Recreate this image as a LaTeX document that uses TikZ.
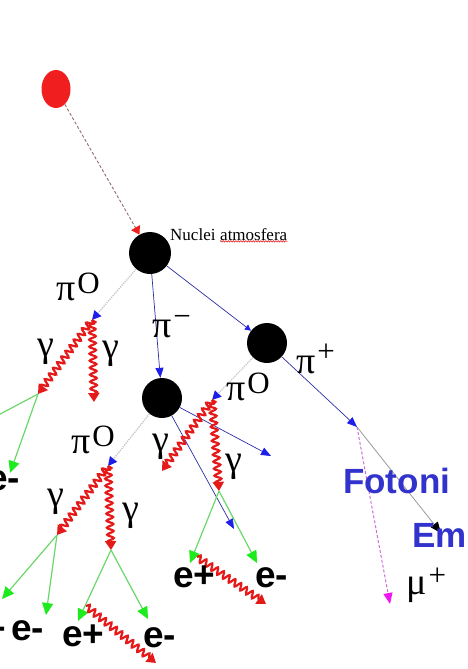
\documentclass[tikz,border=0pt]{standalone}
\usepackage{fontspec}
\setmainfont{Liberation Serif}
\newfontfamily\labelfont{Liberation Sans}
\usepackage{xcolor}
\usepackage{tikz}
\usetikzlibrary{shapes.geometric,arrows.meta,positioning,decorations.pathmorphing}

\definecolor{primred}{RGB}{240,30,30}
\definecolor{primline}{RGB}{150,105,105}
\definecolor{pionblue}{RGB}{45,45,165}
\definecolor{tipblue}{RGB}{30,30,235}
\definecolor{photonred}{RGB}{228,25,25}
\definecolor{leptongreen}{RGB}{105,215,105}
\definecolor{tipgreen}{RGB}{30,235,30}
\definecolor{muonpink}{RGB}{205,110,215}
\definecolor{tippink}{RGB}{240,20,240}
\definecolor{captionblue}{RGB}{50,50,205}

% particle name with a raised charge sign
\newcommand{\ptcl}[3]{#1\kern2pt\raisebox{#3}{\fontsize{31}{31}\selectfont #2}}

\begin{document}
\begin{tikzpicture}[x=1pt, y=-1pt,
  nucleus/.style={circle, fill=black, inner sep=0pt, minimum size=40pt},
  incoming/.style={draw=primline, line width=0.9pt, densely dashed, -{Triangle[width=10pt, length=8pt, color=primred]}},
  pion/.style={draw=pionblue, line width=0.7pt, -{Triangle[width=8pt, length=10pt, color=tipblue]}},
  neutral/.style={draw=gray!45, densely dotted, line width=1.3pt, -{Triangle[width=9pt, length=9pt, color=tipblue]}},
  photon/.style={draw=photonred, line width=2.2pt, decorate, decoration={snake, amplitude=3.3pt, segment length=7pt, post length=6pt}, -{Triangle[width=11pt, length=9pt]}},
  lepton/.style={draw=leptongreen, line width=1.2pt, -{Triangle[width=11pt, length=12pt, color=tipgreen]}},
  muon/.style={draw=muonpink, line width=1pt, densely dashed, -{Triangle[width=9pt, length=11pt, color=tippink]}},
  plabel/.style={font=\fontsize{38}{38}\selectfont, inner sep=0pt, anchor=base west},
  elabel/.style={font=\labelfont\bfseries\fontsize{37}{37}\selectfont, inner sep=0pt, anchor=base west},
  caption/.style={font=\labelfont\bfseries\fontsize{35}{35}\selectfont, text=captionblue, inner sep=0pt, anchor=base west}]
\useasboundingbox (0,0) rectangle (468,669);
\clip (0,0) rectangle (468,669);

% primary particle and the nuclei it hits
\node[ellipse, fill=primred, minimum width=29pt, minimum height=38pt, inner sep=0pt] (cr) at (56,89) {};
\node[nucleus, minimum size=42pt] (n1) at (150,253) {};
\node[nucleus] (n2) at (267,343) {};
\node[nucleus] (n3) at (162,398) {};
\node[font=\fontsize{17}{17}\selectfont, inner sep=0pt, anchor=base west] (nuc) at (170,240) {Nuclei};
\node[font=\fontsize{17}{17}\selectfont, inner sep=0pt, anchor=base west] (atm) at (220,240) {atmosfera};
\draw[photonred, line width=0.6pt, decorate, decoration={snake, amplitude=0.7pt, segment length=2.5pt}]
  ([yshift=-1pt]atm.south west) -- ([yshift=-1pt]atm.south east);

% decay and end points
\coordinate (pz1) at (92,320);
\coordinate (pz2) at (108,466);
\coordinate (pz3) at (212,400);
\coordinate (dk) at (357,427);
\coordinate (mu) at (390,604);
\coordinate (em) at (441,533);
\coordinate (bm1) at (271,456);
\coordinate (bm2) at (234,529);
\coordinate (g1a) at (38,394);
\coordinate (g1b) at (94,402);
\coordinate (g2a) at (57,535);
\coordinate (g2b) at (111,550);
\coordinate (g3a) at (162,471);
\coordinate (g3b) at (219,491);

% hadronic part
\draw[incoming] (cr) -- (n1);
\draw[pion, -{Triangle[width=6pt, length=6pt, color=tipblue]}] (n1) -- (n2);
\draw[pion] (n1) -- (n3);
\draw[pion] (n2) -- (dk);
\draw[pion] (n3) -- (bm1);
\draw[pion] (n3) -- (bm2);
\draw[neutral] (n1) -- (pz1);
\draw[neutral] (n2) -- (pz3);
\draw[neutral] (n3) -- (pz2);
\draw[muon] (dk) -- (mu);
\draw[draw=gray!80, line width=0.8pt, -{Triangle[width=9pt, length=11pt, color=black]}] (dk) -- (em);

% pi0 -> gamma gamma
\draw[photon] (pz1) -- (g1a);
\draw[photon] (pz1) -- (g1b);
\draw[photon] (pz2) -- (g2a);
\draw[photon] (pz2) -- (g2b);
\draw[photon] (pz3) -- (g3a);
\draw[photon] (pz3) -- (g3b);

% pair production
\coordinate (t1) at (10,473);
\coordinate (t2) at (2,599);
\coordinate (t3) at (46,615);
\coordinate (t4) at (78,621);
\coordinate (t5) at (148,619);
\coordinate (t6) at (190,563);
\coordinate (t7) at (257,563);
\coordinate (out) at (-30,430);
\draw[lepton] (g1a) -- (t1);
\draw[lepton, -] (g1a) -- (out);
\draw[lepton] (g2a) -- (t2);
\draw[lepton] (g2a) -- (t3);
\draw[lepton] (g2b) -- (t4);
\draw[lepton] (g2b) -- (t5);
\draw[lepton] (g3b) -- (t6);
\draw[lepton] (g3b) -- (t7);

% bremsstrahlung photons
\coordinate (b1s) at (86,606);
\coordinate (b1e) at (156,663);
\coordinate (b2s) at (197,557);
\coordinate (b2e) at (266,604);
\draw[photon] (b1s) -- (b1e);
\draw[photon] (b2s) -- (b2e);

% labels
\node[plabel] (lpz1) at (56,300) {\ptcl{π}{O}{7pt}};
\node[plabel] (lpm) at (152,337) {\ptcl{π}{−}{11pt}};
\node[plabel] (lpp) at (296,373) {\ptcl{π}{+}{12pt}};
\node[plabel] (lpz3) at (226,400) {\ptcl{π}{O}{7pt}};
\node[plabel] (lpz2) at (71,453) {\ptcl{π}{O}{7pt}};
\node[plabel] (lmu) at (406,594) {\ptcl{μ}{+}{9pt}};
\node[plabel] (ga1) at (37,356) {γ};
\node[plabel] (gb1) at (102,358) {γ};
\node[plabel] (ga2) at (47,506) {γ};
\node[plabel] (gb2) at (122,520) {γ};
\node[plabel] (ga3) at (152,451) {γ};
\node[plabel] (gb3) at (225,471) {γ};

\node[elabel] (e1) at (-13,490) {e-};
\node[elabel] (e2) at (-36,641) {e+};
\node[elabel] (e3) at (11,640) {e-};
\node[elabel] (e4) at (62,646) {e+};
\node[elabel] (e5) at (143,647) {e-};
\node[elabel] (e6) at (173,587) {e+};
\node[elabel] (e7) at (255,587) {e-};

\node[caption] (fot) at (343,493) {Fotoni};
\node[caption] (emt) at (412,547) {Em};
\end{tikzpicture}
\end{document}
